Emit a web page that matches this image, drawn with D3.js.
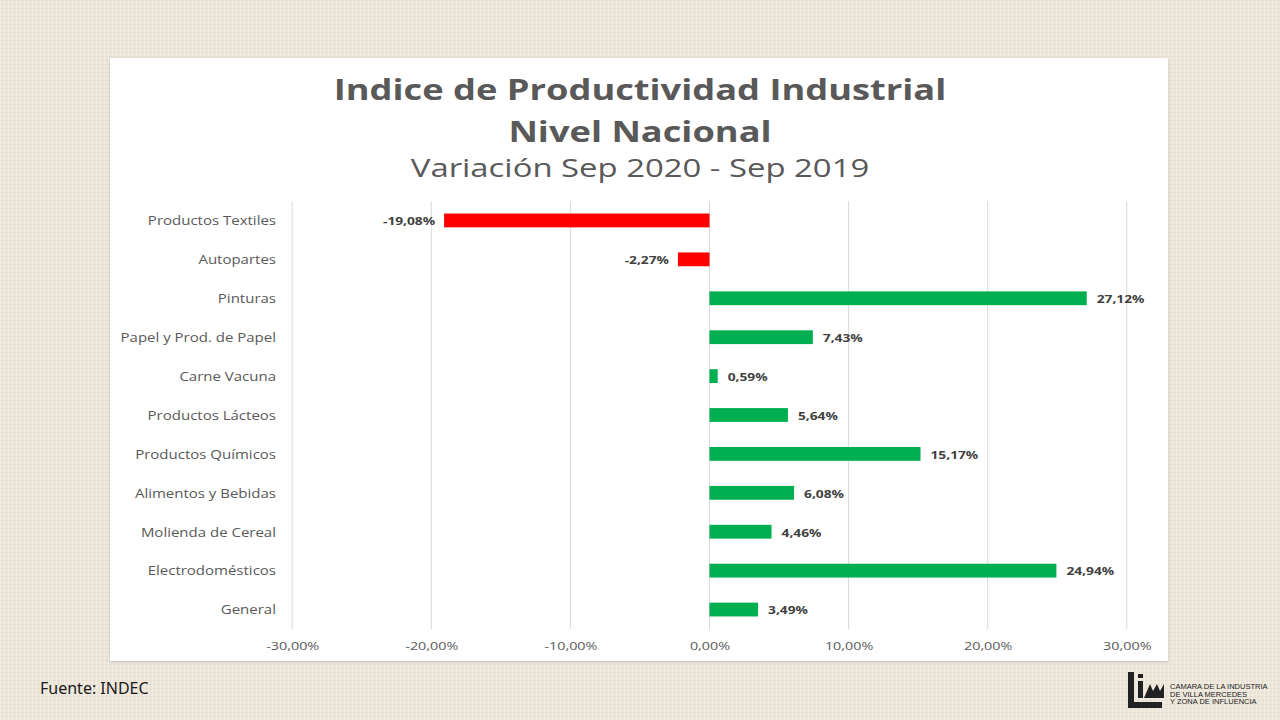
<!DOCTYPE html>
<html><head><meta charset="utf-8">
<script src="https://cdn.jsdelivr.net/npm/d3@7"></script>
<style>html,body{margin:0;padding:0;background:#ECE6DA;}svg{display:block;}</style>
</head><body>
<svg id="c" width="1280" height="720"></svg>
<script>
const categories = ["Productos Textiles","Autopartes","Pinturas","Papel y Prod. de Papel","Carne Vacuna","Productos Lácteos","Productos Químicos","Alimentos y Bebidas","Molienda de Cereal","Electrodomésticos","General"];
const values = [-19.08,-2.27,27.12,7.43,0.59,5.64,15.17,6.08,4.46,24.94,3.49];
const tickValues = [-30,-20,-10,0,10,20,30];
const titleLines = ["Indice de Productividad Industrial","Nivel Nacional"];
const subtitle = "Variación Sep 2020 - Sep 2019";
const source = "Fuente: INDEC";
const logoLines = ["CAMARA DE LA INDUSTRIA","DE VILLA MERCEDES","Y ZONA DE INFLUENCIA"];

const SX = 1.25; // horizontal stretch of the slide text
const loc = d3.formatLocale({decimal:",", thousands:".", grouping:[3], currency:["",""], minus:"-"});
const pct = d => loc.format(".2f")(d) + "%";

const svg = d3.select("#c");
const defs = svg.append("defs");
const pat = defs.append("pattern").attr("id","linen").attr("width",4).attr("height",4).attr("patternUnits","userSpaceOnUse");
pat.append("rect").attr("width",4).attr("height",4).attr("fill","#EDE7DB");
pat.append("rect").attr("x",0).attr("y",0).attr("width",4).attr("height",1).attr("fill","#E3DCCE").attr("opacity",0.7);
pat.append("rect").attr("x",0).attr("y",0).attr("width",1).attr("height",4).attr("fill","#F4EFE6").attr("opacity",0.7);
svg.append("rect").attr("width",1280).attr("height",720).attr("fill","url(#linen)");

const filt = defs.append("filter").attr("id","sh").attr("x","-5%").attr("y","-5%").attr("width","110%").attr("height","110%");
filt.append("feDropShadow").attr("dx",0).attr("dy",1).attr("stdDeviation",1.5).attr("flood-color","#000").attr("flood-opacity",0.18);
svg.append("rect").attr("x",110).attr("y",58).attr("width",1058).attr("height",603).attr("fill","#fff").attr("filter","url(#sh)");

const font = "'Open Sans', 'Noto Sans', sans-serif";
const tl = (x,y) => `translate(${x},${y}) scale(${SX},1)`;

svg.append("g").selectAll("text").data(titleLines).join("text")
  .attr("transform",(d,i)=>tl(640,100+i*41.7)).attr("text-anchor","middle")
  .attr("font-family",font).attr("font-weight","bold").attr("font-size",29).attr("fill","#595959").text(d=>d);
svg.append("text").attr("transform",tl(640,177)).attr("text-anchor","middle")
  .attr("font-family",font).attr("font-size",26.3).attr("fill","#595959").text(subtitle);

const x = d3.scaleLinear().domain([-30,30]).range([292.2,1126.8]);
const y = d3.scaleBand().domain(categories).range([201,629]).paddingInner(0.645).paddingOuter(0.3225);

// gridlines
svg.append("g").selectAll("line").data(tickValues).join("line")
  .attr("x1",d=>x(d)).attr("x2",d=>x(d)).attr("y1",201).attr("y2",629)
  .attr("stroke","#D9D9D9").attr("stroke-width",1);

// x axis labels
const xAxis = d3.axisBottom(x).tickValues(tickValues).tickSize(0).tickPadding(0).tickFormat(pct);
const gx = svg.append("g").attr("transform","translate(0,642)").call(xAxis);
gx.select(".domain").remove();
gx.selectAll("text").attr("font-family",font).attr("font-size",11.5).attr("fill","#595959").attr("dy","0.71em")
  .attr("transform",`scale(${SX},1)`);

// y axis labels
const yAxis = d3.axisLeft(y).tickSize(0).tickPadding(0);
const gy = svg.append("g").attr("transform","translate(276,1)").call(yAxis);
gy.select(".domain").remove();
gy.selectAll("text").attr("font-family",font).attr("font-size",12).attr("fill","#595959")
  .attr("transform",`scale(${SX},1)`);

// bars
const data = categories.map((c,i)=>({c,v:values[i]}));
svg.append("g").selectAll("rect").data(data).join("rect")
  .attr("x",d=>x(Math.min(0,d.v))).attr("width",d=>Math.abs(x(d.v)-x(0)))
  .attr("y",d=>y(d.c)).attr("height",y.bandwidth())
  .attr("fill",d=>d.v<0?"#FF0000":"#00B050");

// data labels
svg.append("g").selectAll("text").data(data).join("text")
  .attr("transform",d=>tl(d.v<0?x(d.v)-9:x(d.v)+10, y(d.c)+y.bandwidth()/2+1))
  .attr("dy","0.35em")
  .attr("text-anchor",d=>d.v<0?"end":"start")
  .attr("font-family",font).attr("font-weight","bold").attr("font-size",11).attr("fill","#404040")
  .text(d=>pct(d.v));

// source
svg.append("text").attr("x",40).attr("y",694).attr("font-family","'Noto Sans', sans-serif").attr("font-size",16).attr("fill","#1a1a1a").text(source);

// logo
const lg = svg.append("g").attr("transform","translate(1128,672)");
lg.append("path").attr("d","M0,0 H6 V30 H34 V36 H0 Z").attr("fill","#222");
lg.append("rect").attr("x",10).attr("y",2).attr("width",5).attr("height",4).attr("fill","#222");
lg.append("rect").attr("x",10).attr("y",9).attr("width",5).attr("height",17).attr("fill","#222");
lg.append("path").attr("d","M16,26 L22,12 L25,19 L29,12 L32,19 L36,12 L36,26 Z").attr("fill","#222");
svg.append("g").selectAll("text").data(logoLines).join("text")
  .attr("x",1170).attr("y",(d,i)=>689+i*7.5)
  .attr("font-family","'Liberation Sans Narrow','Liberation Sans',sans-serif").attr("font-size",7.5).attr("fill","#222")
  .text(d=>d);
</script>
</body></html>
